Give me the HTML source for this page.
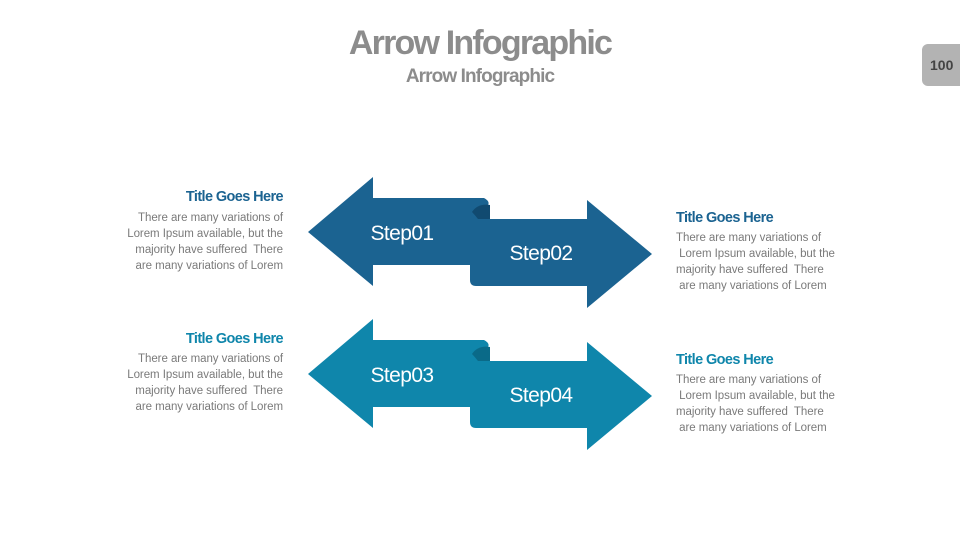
<!DOCTYPE html>
<html><head><meta charset="utf-8"><style>
body{margin:0;width:960px;height:540px;background:#fff;overflow:hidden;position:relative;font-family:"Liberation Sans",sans-serif}
.t{position:absolute;font-weight:bold;letter-spacing:-0.5px}
.p{position:absolute;font-size:11.5px;line-height:16px;color:#7a7a7a;letter-spacing:-0.05px;white-space:pre}
.h{position:absolute;font-size:14.5px;font-weight:bold;letter-spacing:-0.6px;white-space:nowrap}
</style></head><body>
<div class="t" style="left:0;width:960px;text-align:center;top:24px;font-size:34px;color:#8c8c8c;letter-spacing:-1.8px">Arrow Infographic</div>
<div class="t" style="left:0;width:960px;text-align:center;top:66px;font-size:19px;color:#8c8c8c;letter-spacing:-0.9px">Arrow Infographic</div>
<div style="position:absolute;left:922px;top:44px;width:44px;height:42px;background:#b3b3b3;border-radius:6px;color:#444;font-weight:bold;font-size:14px;line-height:42px;text-indent:8px">100</div>

<svg width="960" height="540" style="position:absolute;left:0;top:0">
<g fill="#1b6391">
<path d="M308,232 L373,177 L373,198 L484,198 Q492,202 486,208 L478,210 L472,265 L373,265 L373,286 Z"/>
<path d="M470,212 Q474,206 486,206 L490,206 L490,219 L587,219 L587,200 L652,254 L587,308 L587,286 L476,286 Q470,286 470,280 Z"/>
<path d="M472,212 Q478,203 490,205 L490,219 L478,219 Q474,214 472,212 Z" fill="#114a70"/>
</g>
<g fill="#0f86ab">
<path d="M308,374 L373,319 L373,340 L484,340 Q492,344 486,350 L478,352 L472,407 L373,407 L373,428 Z"/>
<path d="M470,354 Q474,348 486,348 L490,348 L490,361 L587,361 L587,342 L652,396 L587,450 L587,428 L476,428 Q470,428 470,422 Z"/>
<path d="M472,354 Q478,345 490,347 L490,361 L478,361 Q474,356 472,354 Z" fill="#0a6a88"/>
</g>
<g fill="#fff" font-family="Liberation Sans,sans-serif" font-size="21" letter-spacing="-0.6" text-anchor="middle">
<text x="402" y="240">Step01</text>
<text x="541" y="260">Step02</text>
<text x="402" y="382">Step03</text>
<text x="541" y="402">Step04</text>
</g>
</svg>

<div class="h" style="right:677px;top:189px;color:#1b6391">Title Goes Here</div>
<div class="p" style="right:677px;top:210px;text-align:right">There are many variations of
Lorem Ipsum available, but the
majority have suffered  There
are many variations of Lorem</div>
<div class="h" style="left:676px;top:210px;color:#1b6391">Title Goes Here</div>
<div class="p" style="left:676px;top:230px">There are many variations of
 Lorem Ipsum available, but the
majority have suffered  There
 are many variations of Lorem</div>

<div class="h" style="right:677px;top:331px;color:#0f86ab">Title Goes Here</div>
<div class="p" style="right:677px;top:351px;text-align:right">There are many variations of
Lorem Ipsum available, but the
majority have suffered  There
are many variations of Lorem</div>
<div class="h" style="left:676px;top:352px;color:#0f86ab">Title Goes Here</div>
<div class="p" style="left:676px;top:372px">There are many variations of
 Lorem Ipsum available, but the
majority have suffered  There
 are many variations of Lorem</div>
</body></html>
